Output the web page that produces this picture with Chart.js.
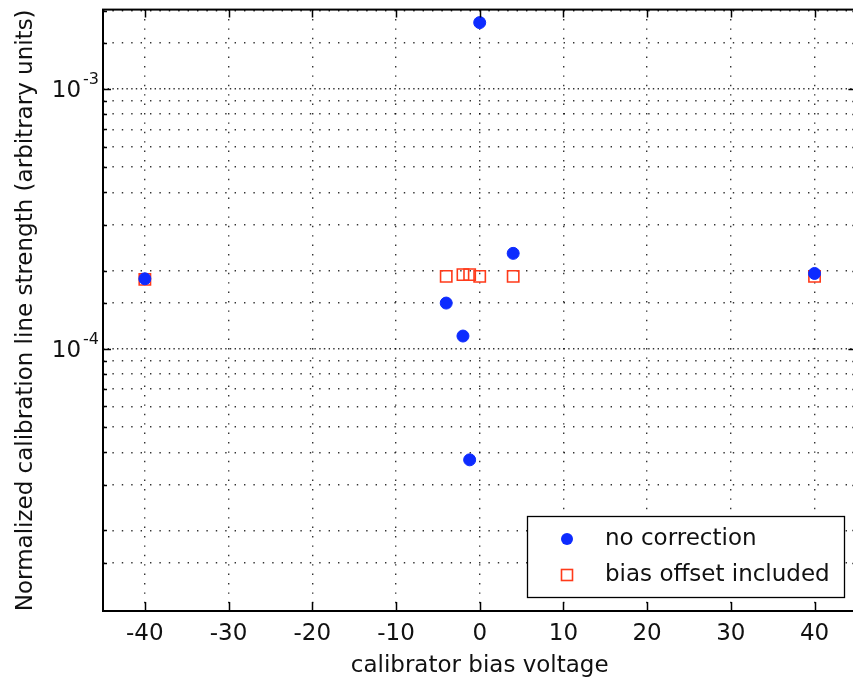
<!DOCTYPE html>
<html>
<head>
<meta charset="utf-8">
<script src="https://cdn.jsdelivr.net/npm/chart.js@4/dist/chart.umd.min.js"></script>
<style>
  html, body { margin: 0; padding: 0; background: #fff; overflow: hidden; }
  #wrap { width: 853px; height: 682px; overflow: hidden; }
  canvas { display: block; }
</style>
</head>
<body>
<div id="wrap"><canvas id="calChart" width="866" height="682"></canvas></div>
<script>
// bias voltage sweep, line strength normalised
const biasNoCorr = [-40, -4, -2, -1.2, 0, 4, 40];
const strengthNoCorr = [1.86e-4, 1.50e-4, 1.12e-4, 3.74e-5, 1.80e-3, 2.33e-4, 1.95e-4];
const biasWithOffset = [-40, -4, -2, -1.2, 0, 4, 40];
const strengthWithOffset = [1.85e-4, 1.90e-4, 1.93e-4, 1.93e-4, 1.90e-4, 1.90e-4, 1.90e-4];

const seriesLabels = ['no correction', 'bias offset included'];
const xTicks = [-40, -30, -20, -10, 0, 10, 20, 30, 40];
const yLabelValues = [1e-4, 1e-3];

const FONT = "'DejaVu Sans', sans-serif";
const BLUE = '#0d2bff';
const RED = '#ff3a1a';

const toPoints = (xs, ys) => xs.map((x, i) => ({ x, y: ys[i] }));
const isDecade = v => Math.abs(Math.log10(v) - Math.round(Math.log10(v))) < 1e-6;

// box, inward ticks and 10^n labels, matlab style
const framePlugin = {
  id: 'frame',
  afterDatasetsDraw(chart) {
    const { ctx, chartArea: a, scales: { x, y } } = chart;
    ctx.save();
    ctx.strokeStyle = '#000';
    ctx.lineWidth = 1.5;
    ctx.beginPath();
    xTicks.forEach(v => {
      const px = Math.round(x.getPixelForValue(v)) + 0.5;
      ctx.moveTo(px, a.bottom); ctx.lineTo(px, a.bottom - 9);
      ctx.moveTo(px, a.top); ctx.lineTo(px, a.top + 8);
    });
    y.ticks.forEach(t => {
      if (t.value <= y.min || t.value >= y.max) return;
      const len = isDecade(t.value) ? 8 : 4;
      const py = Math.round(y.getPixelForValue(t.value)) + 0.5;
      ctx.moveTo(a.left, py); ctx.lineTo(a.left + len, py);
      ctx.moveTo(a.right, py); ctx.lineTo(a.right - len, py);
    });
    ctx.stroke();
    ctx.lineWidth = 2;
    ctx.strokeRect(a.left, a.top, a.right - a.left, a.bottom - a.top);

    ctx.fillStyle = '#111';
    ctx.textBaseline = 'alphabetic';
    yLabelValues.forEach(v => {
      const py = y.getPixelForValue(v);
      const exp = String(Math.round(Math.log10(v)));
      ctx.font = '16px ' + FONT;
      ctx.textAlign = 'right';
      ctx.fillText(exp, a.left - 4, py - 5);
      const supW = ctx.measureText(exp).width;
      ctx.font = '23px ' + FONT;
      ctx.fillText('10', a.left - 6 - supW, py + 8.5);
    });
    ctx.restore();
  },
  afterDraw(chart) {
    // legend box in the lower right corner
    const { ctx } = chart;
    const box = { l: 527, t: 516, r: 844, b: 597 };
    ctx.save();
    ctx.fillStyle = '#fff';
    ctx.fillRect(box.l, box.t, box.r - box.l, box.b - box.t);
    ctx.strokeStyle = '#000';
    ctx.lineWidth = 1.3;
    ctx.strokeRect(box.l + 0.5, box.t + 0.5, box.r - box.l, box.b - box.t);
    const rows = [539, 575];
    chart.data.datasets.forEach((ds, i) => {
      const cy = rows[i];
      const cx = box.l + 40;
      if (ds.pointStyle === 'rect') {
        ctx.strokeStyle = ds.borderColor;
        ctx.lineWidth = 1.6;
        ctx.strokeRect(cx - 5.5, cy - 5.5, 11, 11);
      } else {
        ctx.fillStyle = ds.backgroundColor;
        ctx.beginPath();
        ctx.arc(cx, cy, 6, 0, Math.PI * 2);
        ctx.fill();
      }
      ctx.fillStyle = '#111';
      ctx.font = '23px ' + FONT;
      ctx.textAlign = 'left';
      ctx.textBaseline = 'middle';
      ctx.fillText(ds.label, box.l + 78, cy);
    });
    ctx.restore();
  }
};

new Chart(document.getElementById('calChart'), {
  type: 'scatter',
  data: {
    datasets: [{
      label: seriesLabels[0],
      data: toPoints(biasNoCorr, strengthNoCorr),
      pointStyle: 'circle',
      pointRadius: 6,
      backgroundColor: BLUE,
      borderColor: BLUE,
      borderWidth: 1
    }, {
      label: seriesLabels[1],
      data: toPoints(biasWithOffset, strengthWithOffset),
      pointStyle: 'rect',
      pointRadius: 8,
      backgroundColor: 'rgba(0,0,0,0)',
      borderColor: RED,
      borderWidth: 1.6
    }]
  },
  options: {
    responsive: false,
    devicePixelRatio: 1,
    animation: false,
    layout: { padding: { top: 9, right: 7, left: 0, bottom: 0 } },
    scales: {
      x: {
        type: 'linear',
        min: -45,
        max: 45,
        afterBuildTicks: s => { s.ticks = xTicks.map(value => ({ value })); },
        afterFit: s => { s.height = 71; s.paddingLeft = 0; s.paddingRight = 0; },
        ticks: {
          padding: 9,
          color: '#111',
          font: { family: FONT, size: 23 }
        },
        grid: {
          drawTicks: false,
          color: 'rgba(0,0,0,0.8)',
          lineWidth: 1.4
        },
        border: { display: false, dash: [1.4, 8] },
        title: {
          display: true,
          text: 'calibrator bias voltage',
          color: '#111',
          font: { family: FONT, size: 23 },
          padding: { top: 0, bottom: 2 }
        }
      },
      y: {
        type: 'logarithmic',
        min: 9.8e-6,
        max: 2.02e-3,
        afterFit: s => { s.width = 103; s.paddingTop = 0; s.paddingBottom = 0; },
        ticks: { display: false },
        grid: {
          drawTicks: false,
          color: 'rgba(0,0,0,0.8)',
          lineWidth: 1.4
        },
        border: {
          display: false,
          dash: ctx => (ctx.tick && isDecade(ctx.tick.value)) ? [1.4, 3.2, 1.4, 3.4] : [1.4, 8]
        },
        title: {
          display: true,
          text: 'Normalized calibration line strength (arbitrary units)',
          color: '#111',
          font: { family: FONT, size: 23 },
          padding: { top: 12, bottom: 0 }
        }
      }
    },
    plugins: {
      legend: { display: false },
      tooltip: { enabled: false }
    }
  },
  plugins: [framePlugin]
});
</script>
</body>
</html>
